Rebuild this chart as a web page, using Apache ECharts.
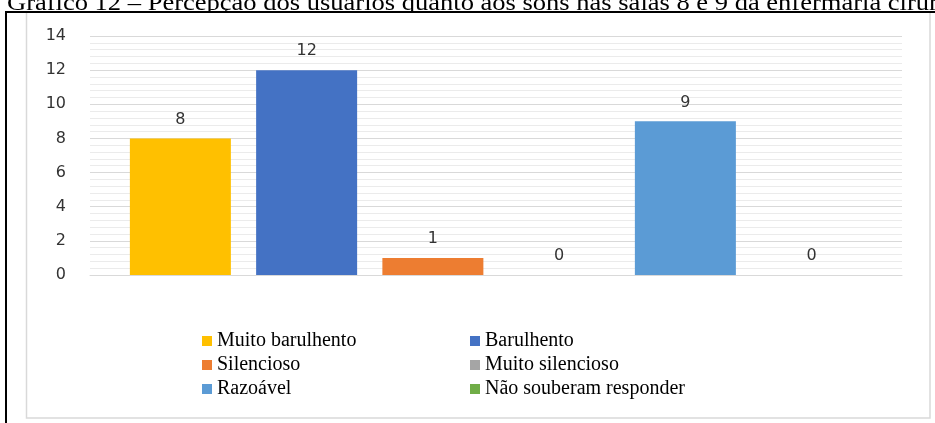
<!DOCTYPE html>
<html>
<head>
<meta charset="utf-8">
<script src="https://cdn.jsdelivr.net/npm/echarts@6/dist/echarts.min.js"></script>
<style>
html,body{margin:0;padding:0;background:#fff;}
#chart{width:935px;height:423px;}
</style>
</head>
<body>
<div id="chart"></div>
<script>
const titleText = 'Gráfico 12 – Percepção dos usuários quanto aos sons nas salas 8 e 9 da enfermaria cirúrgica';
const categories = ['Percepção'];
const seriesNames = ['Muito barulhento', 'Barulhento', 'Silencioso', 'Muito silencioso', 'Razoável', 'Não souberam responder'];
const seriesValues = [8, 12, 1, 0, 9, 0];
const seriesColors = ['#FFC000', '#4472C4', '#ED7D31', '#A5A5A5', '#5B9BD5', '#70AD47'];
const yTicks = [0, 2, 4, 6, 8, 10, 12, 14];

const chart = echarts.init(document.getElementById('chart'), null, {renderer: 'canvas'});

const series = seriesNames.map((name, i) => ({
  name: name,
  type: 'bar',
  data: [seriesValues[i]],
  barWidth: 101,
  barGap: '25%',
  itemStyle: {color: seriesColors[i]},
  label: {
    show: true,
    position: 'top',
    distance: 11,
    fontFamily: '"DejaVu Sans"',
    fontSize: 16,
    color: '#333'
  }
}));

const legendCommon = {
  orient: 'vertical',
  icon: 'rect',
  itemWidth: 10,
  itemHeight: 10,
  itemGap: 4,
  selectedMode: false,
  textStyle: {fontFamily: '"Liberation Serif"', fontSize: 20, color: '#000'}
};

chart.setOption({
  animation: false,
  grid: {left: 90, right: 33, top: 36, bottom: 148},
  xAxis: {
    type: 'category',
    data: categories,
    axisLabel: {show: false},
    axisTick: {show: false},
    axisLine: {show: true, lineStyle: {color: '#d9d9d9', width: 1}}
  },
  yAxis: {
    type: 'value',
    min: yTicks[0],
    max: yTicks[yTicks.length - 1],
    interval: 2,
    axisLabel: {fontFamily: '"DejaVu Sans"', fontSize: 16, color: '#333', margin: 24},
    axisLine: {show: false},
    axisTick: {show: false},
    splitLine: {lineStyle: {color: '#d9d9d9', width: 1}},
    minorTick: {show: false, splitNumber: 5},
    minorSplitLine: {show: true, lineStyle: {color: '#ebebeb', width: 1}}
  },
  legend: [
    Object.assign({}, legendCommon, {data: [seriesNames[0], seriesNames[2], seriesNames[4]], left: 197, top: 326}),
    Object.assign({}, legendCommon, {data: [seriesNames[1], seriesNames[3], seriesNames[5]], left: 465, top: 326})
  ],
  series: series,
  graphic: [
    {type: 'text', x: 7, y: 16, scaleX: 1.105, style: {text: titleText, font: '24px "Liberation Serif"', fill: '#000', verticalAlign: 'bottom'}, silent: true, z: -2},
    {type: 'rect', shape: {x: 7, y: 13, width: 928, height: 410}, style: {fill: '#fff'}, silent: true, z: -1},
    {type: 'rect', shape: {x: 26.5, y: 12, width: 903.5, height: 406}, style: {fill: 'none', stroke: '#d9d9d9', lineWidth: 1.5}, silent: true, z: 1},
    {type: 'line', shape: {x1: 6, y1: 12, x2: 935, y2: 12}, style: {stroke: '#000', lineWidth: 2}, silent: true, z: 10},
    {type: 'line', shape: {x1: 6, y1: 11, x2: 6, y2: 423}, style: {stroke: '#000', lineWidth: 2}, silent: true, z: 10}
  ]
});
</script>
</body>
</html>
